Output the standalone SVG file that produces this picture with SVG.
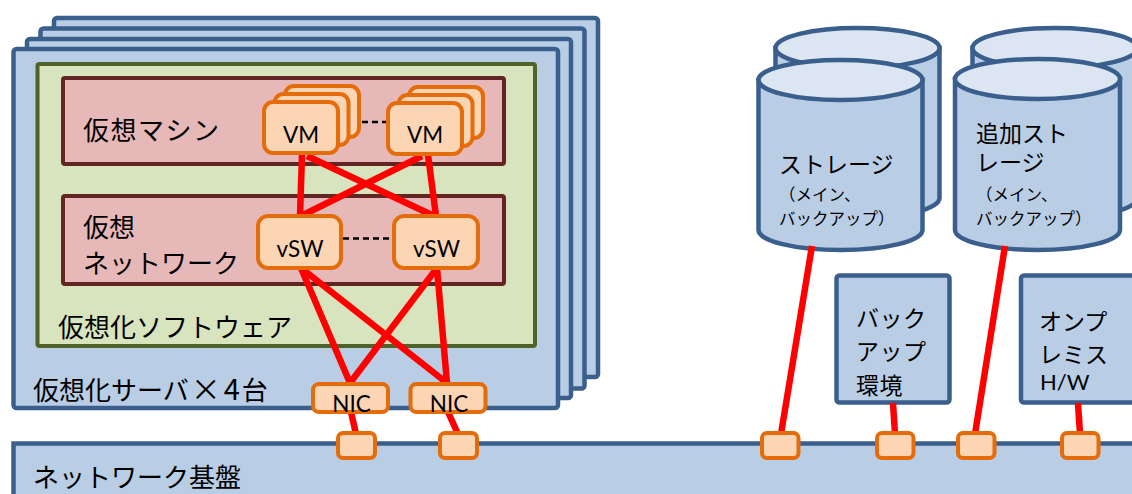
<svg xmlns="http://www.w3.org/2000/svg" width="1132" height="494" viewBox="0 0 1132 494">
  <style>
    .srv { fill: #B9CDE5; stroke: #3A5F8C; stroke-width: 4.5; }
    .soft { fill: #D7E4BD; stroke: #4F6228; stroke-width: 4; }
    .grp { fill: #E6B9B8; stroke: #632523; stroke-width: 4; }
    .dev { fill: #FCD5B5; stroke: #E46C0A; stroke-width: 4; }
    .cyl { fill: #B9CDE5; stroke: #3A5F8C; stroke-width: 4.5; }
    .cyltop { fill: #DCE6F2; stroke: #3A5F8C; stroke-width: 4.5; }
    .link { stroke: #FF0000; stroke-width: 6.5; fill: none; }
    .dash { stroke: #000; stroke-width: 2.5; stroke-dasharray: 6 4; fill: none; }
    .jp { font-family: "Noto Sans CJK JP", "Noto Sans", sans-serif; fill: #000; }
    .lat { font-family: Lato, "Liberation Sans", sans-serif; fill: #000; }
    .big { font-size: 26px; }
    .mid { font-size: 23px; }
    .sm { font-size: 16.5px; }
    .dl { font-size: 22.5px; text-anchor: middle; }
  </style>
  <defs>
    <rect id="vmcard" width="74" height="51" rx="9" class="dev"/>
  </defs>

  <!-- network backbone -->
  <g id="network-base">
    <rect x="13.5" y="443.5" width="1130" height="70" class="srv"/>
    <text x="33" y="487" class="jp big">ネットワーク基盤</text>
  </g>

  <!-- stacked server chassis (x4) -->
  <g id="server-stack">
    <rect x="54" y="18" width="544" height="359" rx="3" class="srv"/>
    <rect x="40.5" y="28.5" width="544" height="360" rx="3" class="srv"/>
    <rect x="27" y="39" width="544" height="359" rx="3" class="srv"/>
    <rect x="13.5" y="49" width="544.5" height="359" rx="3" class="srv"/>
    <text x="33" y="400" class="jp big">仮想化サーバ<tspan dx="2" font-size="30">×</tspan><tspan dx="3" font-size="29">4</tspan><tspan dx="2">台</tspan></text>
  </g>

  <g id="virtualization-software">
    <rect x="37.5" y="64" width="497.5" height="282" rx="2" class="soft"/>
    <text x="58" y="337" class="jp big">仮想化ソフトウェア</text>
  </g>

  <g id="virtual-machines">
    <rect x="63" y="78" width="441" height="86" rx="2" class="grp"/>
    <text x="83" y="140" class="jp big" letter-spacing="1.5">仮想マシン</text>
  </g>

  <g id="virtual-network">
    <rect x="63" y="196" width="441" height="88" rx="2" class="grp"/>
    <text x="83" y="237" class="jp big">仮想<tspan x="83" dy="36">ネットワーク</tspan></text>
  </g>

  <!-- storage cylinders -->
  <g id="storage">
    <path class="cyl" d="M775.5 48 V198 A82 20 0 0 0 939.5 198 V48 Z"/>
    <ellipse cx="857.5" cy="48" rx="82" ry="20" class="cyltop"/>
    <path class="cyl" d="M758.5 80 V230 A82 20 0 0 0 922.5 230 V80 Z"/>
    <ellipse cx="840.5" cy="80" rx="82" ry="20" class="cyltop"/>
    <text x="779" y="173" class="jp mid">ストレージ</text>
    <text x="779" y="201" class="jp sm">（メイン、<tspan x="779" dy="24">バックアップ）</tspan></text>
  </g>

  <g id="additional-storage">
    <path class="cyl" d="M972.5 48 V198 A82.5 20 0 0 0 1137.5 198 V48 Z"/>
    <ellipse cx="1055" cy="48" rx="82.5" ry="20" class="cyltop"/>
    <path class="cyl" d="M955 79 V230 A82.5 20 0 0 0 1120 230 V79 Z"/>
    <ellipse cx="1037.5" cy="79" rx="82.5" ry="20" class="cyltop"/>
    <text x="976" y="142" class="jp mid">追加スト<tspan x="976" dy="29">レージ</tspan></text>
    <text x="976" y="201" class="jp sm">（メイン、<tspan x="976" dy="24">バックアップ）</tspan></text>
  </g>

  <g id="backup-env">
    <rect x="836.5" y="275.5" width="113" height="127" rx="3" class="srv"/>
    <text x="856" y="327" class="jp mid" letter-spacing="0.5">バック<tspan x="856" dy="33">アップ</tspan><tspan x="856" dy="34">環境</tspan></text>
  </g>

  <g id="onprem-hw">
    <rect x="1021" y="275.5" width="130" height="127" rx="3" class="srv"/>
    <text x="1039" y="330" class="jp mid">オンプ<tspan x="1039" dy="33">レミス</tspan></text>
    <text x="1040" y="390" class="lat" font-size="22">H/W</text>
  </g>

  <!-- links -->
  <g id="connectors">
    <line class="dash" x1="342" y1="122" x2="388" y2="122"/>
    <line class="dash" x1="343" y1="238.5" x2="394" y2="238.5"/>
    <line class="link" x1="302" y1="155" x2="300" y2="216"/>
    <line class="link" x1="307" y1="156" x2="434" y2="216"/>
    <line class="link" x1="422" y1="156" x2="301" y2="216"/>
    <line class="link" x1="428" y1="155" x2="436" y2="216"/>
    <line class="link" x1="301" y1="268" x2="350" y2="383"/>
    <line class="link" x1="301" y1="268" x2="447" y2="383"/>
    <line class="link" x1="437" y1="268" x2="350" y2="383"/>
    <line class="link" x1="437" y1="268" x2="447" y2="383"/>
    <line class="link" x1="351" y1="412" x2="356" y2="434"/>
    <line class="link" x1="448" y1="412" x2="458" y2="434"/>
    <line class="link" x1="812" y1="246" x2="781" y2="434"/>
    <line class="link" x1="893" y1="403" x2="895" y2="434"/>
    <line class="link" x1="1005" y1="246" x2="975" y2="434"/>
    <line class="link" x1="1078" y1="403" x2="1080" y2="434"/>
  </g>

  <g id="vm-1">
    <use href="#vmcard" x="285" y="86"/>
    <use href="#vmcard" x="274.5" y="94"/>
    <use href="#vmcard" x="264" y="102"/>
    <text x="301" y="143" class="lat dl">VM</text>
  </g>

  <g id="vm-2">
    <use href="#vmcard" x="409" y="87"/>
    <use href="#vmcard" x="398.5" y="95"/>
    <use href="#vmcard" x="388" y="103"/>
    <text x="425" y="143" class="lat dl">VM</text>
  </g>

  <g id="vsw-1">
    <rect x="258" y="216" width="83" height="52" rx="10" class="dev"/>
    <text x="300" y="257" class="lat dl">vSW</text>
  </g>

  <g id="vsw-2">
    <rect x="394" y="216" width="84" height="52" rx="10" class="dev"/>
    <text x="436.5" y="257" class="lat dl">vSW</text>
  </g>

  <g id="nic-1">
    <rect x="313" y="384" width="75" height="28" rx="6" class="dev"/>
    <text x="351.5" y="412" class="lat dl">NIC</text>
  </g>

  <g id="nic-2">
    <rect x="410.5" y="384" width="75" height="28" rx="6" class="dev"/>
    <text x="449" y="412" class="lat dl">NIC</text>
  </g>

  <!-- switch ports on the backbone -->
  <g id="port-1"><rect x="338" y="433" width="37" height="25" rx="5" class="dev"/></g>
  <g id="port-2"><rect x="440" y="433" width="37" height="25" rx="5" class="dev"/></g>
  <g id="port-3"><rect x="762" y="433" width="36.5" height="25" rx="5" class="dev"/></g>
  <g id="port-4"><rect x="877" y="433" width="36.5" height="25" rx="5" class="dev"/></g>
  <g id="port-5"><rect x="958" y="433" width="36.5" height="25" rx="5" class="dev"/></g>
  <g id="port-6"><rect x="1062" y="433" width="36.5" height="25" rx="5" class="dev"/></g>
</svg>
